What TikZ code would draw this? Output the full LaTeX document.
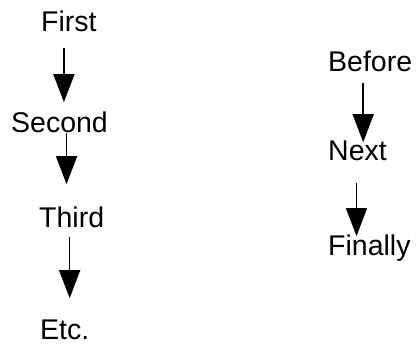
\documentclass[tikz,border=0pt]{standalone}
\usepackage{fontspec}
\setmainfont{Liberation Sans}
\usetikzlibrary{arrows.meta}

\tikzset{
  word/.style={inner sep=0pt, anchor=base west, font=\fontsize{28.5}{34}\selectfont},
  down/.style={line width=1.5pt, -{Triangle[width=21pt,length=28pt]}}
}

\begin{document}
\begin{tikzpicture}[x=1pt,y=1pt]
\useasboundingbox (0,0) rectangle (420,346);

% left column
\node[word] (first)  at (41,314) {First};
\node[word] (second) at (11,214) {Second};
\node[word] (third)  at (39,119) {Third};
\node[word] (etc)    at (40,7)   {Etc.};

% right column
\node[word] (before)  at (328,274) {Before};
\node[word] (next)    at (328,186) {Next};
\node[word] (finally) at (328,91)  {Finally};

% arrows
\draw[down] ([xshift=-5pt,yshift=-16pt]first.south) coordinate (a1)
  -- ([yshift=9pt]a1 |- second.north);
\draw[down] ([xshift=7pt,yshift=-1pt]second.south) coordinate (a2)
  -- ([yshift=22pt]a2 |- third.north);
\draw[down] ([xshift=-2pt,yshift=-10pt]third.south) coordinate (a3)
  -- ([yshift=21pt]a3 |- etc.north);

\draw[down] ([xshift=-7pt,yshift=-11pt]before.south) coordinate (a4)
  -- ([yshift=-2pt]a4 |- next.north);
\draw[down] ([xshift=-1pt,yshift=-23pt]next.south) coordinate (a5)
  -- ([yshift=-2pt]a5 |- finally.north);

\end{tikzpicture}
\end{document}
